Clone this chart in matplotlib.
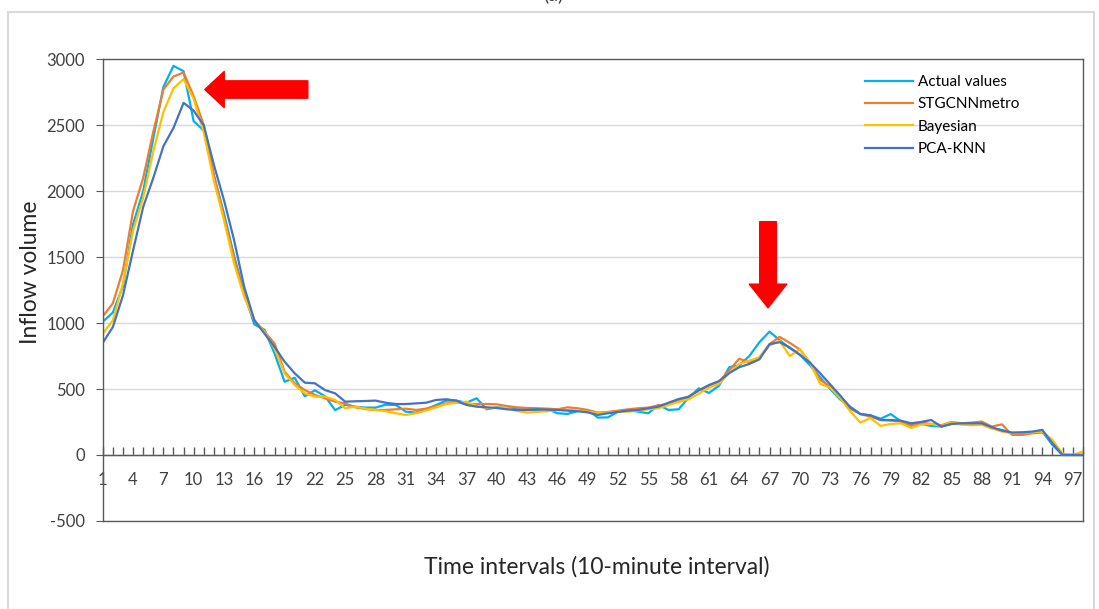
import numpy as np
import matplotlib.pyplot as plt
from matplotlib.patches import FancyArrowPatch, Rectangle

plt.rcParams['font.family'] = ['Lato', 'DejaVu Sans']
plt.rcParams['axes.unicode_minus'] = False

# time interval index 1..98
t = np.arange(1, 99)

actual = [1010, 1080, 1280, 1750, 2000, 2400, 2790, 2950, 2910, 2530,
          2460, 2120, 1830, 1510, 1225, 990, 950, 770, 555, 585,
          445, 490, 445, 340, 380, 366, 359, 359, 381, 379,
          328, 321, 346, 379, 412, 412, 396, 430, 346, 361,
          356, 346, 341, 341, 348, 316, 311, 333, 341,
          283, 285, 328, 341, 328, 316, 379, 341, 346, 435,
          505, 470, 525, 665, 680, 750, 855, 935, 870, 810,
          760, 680, 590, 500, 420, 365, 310, 300, 275, 310,
          255, 225, 235, 220, 215, 235, 235, 238, 235, 202,
          190, 164, 164, 170, 177, 76, 0, 0, 0]

stgcnn = [1050, 1150, 1400, 1850, 2100, 2450, 2770, 2870, 2900, 2720,
          2500, 2120, 1805, 1490, 1212, 1020, 935, 846, 631, 543,
          492, 455, 429, 404, 391, 361, 348, 341, 341, 346,
          351, 341, 351, 371, 391, 399, 386, 386, 386, 384,
          371, 361, 356, 354, 351, 346, 361, 354, 341,
          321, 326, 336, 346, 354, 359, 376, 386, 412, 442,
          490, 525, 555, 640, 730, 700, 740, 840, 895, 850,
          800, 700, 570, 520, 440, 350, 310, 290, 265, 260,
          255, 220, 245, 235, 225, 250, 240, 245, 253, 215,
          232, 152, 152, 164, 170, 101, 0, 0, 0]

bayesian = [920, 1020, 1300, 1700, 1950, 2300, 2600, 2780, 2850, 2700,
            2445, 2080, 1780, 1452, 1200, 1023, 934, 808, 619, 530,
            467, 442, 442, 417, 354, 366, 351, 341, 331, 316,
            303, 316, 336, 361, 386, 396, 404, 371, 354, 358,
            356, 333, 321, 326, 331, 341, 341, 336, 328,
            316, 321, 328, 328, 336, 346, 354, 379, 402, 422,
            465, 510, 540, 620, 690, 715, 740, 830, 865, 750,
            800, 700, 540, 510, 430, 330, 245, 280, 220, 235,
            240, 205, 230, 235, 220, 245, 230, 225, 228, 202,
            177, 164, 170, 172, 177, 114, 10, 0, 25]

pcaknn = [850, 970, 1210, 1550, 1880, 2100, 2340, 2480, 2670, 2610,
          2500, 2200, 1932, 1629, 1275, 1023, 921, 820, 707, 619,
          548, 543, 492, 467, 404, 407, 409, 412, 396, 386,
          386, 391, 396, 417, 422, 412, 379, 366, 361, 356,
          346, 341, 341, 346, 343, 341, 336, 331, 323,
          303, 316, 326, 336, 341, 354, 366, 396, 424, 442,
          490, 530, 560, 620, 665, 690, 725, 840, 855, 815,
          760, 700, 620, 535, 450, 360, 310, 300, 265, 265,
          260, 240, 250, 265, 215, 235, 240, 240, 240, 210,
          185, 170, 172, 177, 190, 88, 0, 0, 0]

names = ['Actual values', 'STGCNNmetro', 'Bayesian', 'PCA-KNN']
colors = ['#00B0F0', '#ED7D31', '#FFC000', '#4472C4']

fig = plt.figure(figsize=(10.99, 6.09), dpi=100)
ax = fig.add_axes([0.0935, 0.1447, 0.8917, 0.7579])

for ys, nm, c in zip([actual, stgcnn, bayesian, pcaknn], names, colors):
    ax.plot(t, ys, color=c, lw=1.6, label=nm)

ax.set_xlim(1, 98)
ax.set_ylim(-500, 3000)
ax.set_yticks(np.arange(-500, 3001, 500))
ax.yaxis.grid(True, color='#D9D9D9', lw=1)
ax.set_axisbelow(True)
ax.tick_params(axis='y', labelsize=12, length=5, color='#595959', labelcolor='#404040', pad=8)
ax.set_xticks([])
for s in ax.spines.values():
    s.set_color('#595959')
    s.set_linewidth(1)

# category axis crossing at y = 0
ax.axhline(0, color='#595959', lw=1, zorder=1.5)
sec = ax.secondary_xaxis(500 / 3500)
sec.set_xticks(np.arange(1, 98, 3))
sec.set_xticks(np.arange(1, 99), minor=True)
sec.tick_params(which='both', direction='in', length=6, width=1, color='#595959',
                labelsize=12, labelcolor='#404040', pad=12)
sec.spines['bottom'].set_color('#595959')

fig.text(0.028, 0.553, 'Inflow volume', fontsize=16.5, color='#262626',
         rotation=90, ha='center', va='center')
fig.text(0.543, 0.07, 'Time intervals (10-minute interval)', fontsize=16.5,
         color='#262626', ha='center', va='center')

ax.legend(loc='upper left', bbox_to_anchor=(0.778, 0.966), frameon=False,
          fontsize=11, handlelength=3.1, handletextpad=0.35, labelspacing=0.55,
          borderpad=0, borderaxespad=0)

# red arrows
arr1 = FancyArrowPatch((21.3, 2771), (11.1, 2771), mutation_scale=1, color='#FF0000',
                       shrinkA=0, shrinkB=0,
                       arrowstyle='simple,head_length=14,head_width=26,tail_width=12.5')
arr2 = FancyArrowPatch((66.85, 1769), (66.85, 1116), mutation_scale=1, color='#FF0000',
                       shrinkA=0, shrinkB=0,
                       arrowstyle='simple,head_length=17,head_width=27,tail_width=12')
ax.add_patch(arr1)
ax.add_patch(arr2)

# chart area border and cut-off panel tag
fig.patches.append(Rectangle((8 / 1099, -0.05), (1094 - 8) / 1099, 1.05 - 12 / 609,
                             transform=fig.transFigure, fill=False,
                             edgecolor='#D9D9D9', lw=1.5))
fig.text(0.503, 1.01, '(a)', fontsize=14, ha='center', va='center', color='#404040')

fig.savefig('out.png', dpi=100)
